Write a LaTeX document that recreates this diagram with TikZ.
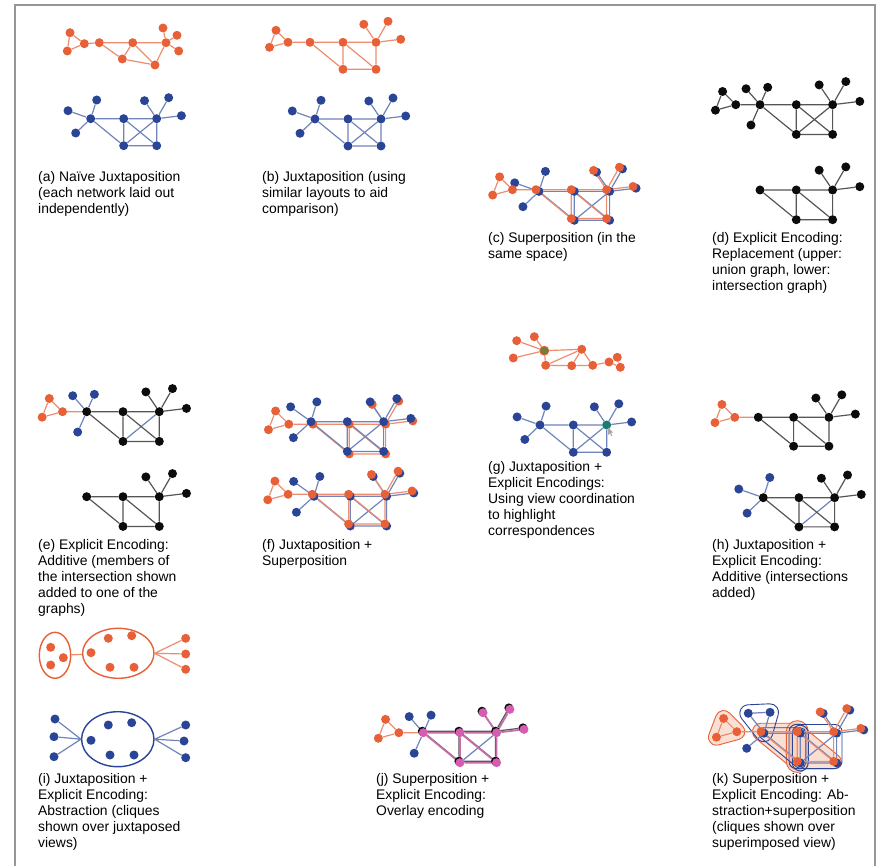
\documentclass[tikz,border=0pt]{standalone}
\usepackage{fontspec}
\setmainfont{Liberation Sans}
\usetikzlibrary{shapes.geometric}
\pgfdeclarelayer{hulls}
\pgfdeclarelayer{edges}
\pgfsetlayers{hulls,edges,main}

\definecolor{nred}{RGB}{232,96,56}
\definecolor{ered}{RGB}{238,140,112}
\definecolor{nblue}{RGB}{42,68,150}
\definecolor{eblue}{RGB}{112,132,188}
\definecolor{nblack}{RGB}{12,12,12}
\definecolor{eblack}{RGB}{85,85,85}
\definecolor{npink}{RGB}{214,92,178}
\definecolor{epink}{RGB}{196,110,170}
\definecolor{framec}{RGB}{150,150,150}
\definecolor{hullfill}{RGB}{248,212,192}
\definecolor{nteal}{RGB}{28,122,112}
\definecolor{ngreen}{RGB}{112,128,58}

% positions of the three leaves hanging off the hub (local units)
\def\hlA{-22.7,-8}\def\hlB{6,-18.7}\def\hlC{-15,14.3}

% node groups of the network, in local units (hub at the origin)
\newcommand\netTri{%
  \node[trin] (-t1) at (-34,-12) {};
  \node[trin] (-t2) at (-40.5,5) {};
  \node[trin] (-t3) at (-22,0) {};}
\newcommand\netCore{%
  \node[comn] (-h) at (0,0) {};
  \node[comn] (-a) at (33,0) {};
  \node[comn,bsp] (-b) at (66,0) {};
  \node[comn] (-c) at (33,27) {};
  \node[comn] (-d) at (66,27) {};
  \node[comn] (-bl1) at (53.8,-18) {};
  \node[comn] (-bl2) at (78,-21) {};
  \node[comn] (-bl3) at (90.7,-3) {};}
\newcommand\netHl{%
  \node[hln] (-hl1) at (\hlA) {};
  \node[hln] (-hl2) at (\hlB) {};
  \node[hln] (-hl3) at (\hlC) {};}
\newcommand\edgeTri{\draw[trie] (-t1) -- (-t2) -- (-t3) -- (-t1) (-t3) -- (-h);}
\newcommand\edgeCore{\draw[come] (-h) -- (-a) -- (-b) -- (-d) -- (-c) -- (-h)
  (-a) -- (-c) (-a) -- (-d) (-b) -- (-bl1) (-b) -- (-bl2) (-b) -- (-bl3);}
\newcommand\edgeHl{\draw[hle] (-h) -- (-hl1) (-h) -- (-hl2) (-h) -- (-hl3) (-c) -- (-b);}

% rounded hull (distance \hr) around a triangle given clockwise on screen
\def\hr{7}
\newcommand\trihull[7]{%
  \pgfmathsetmacro\eA{atan2(#5-#3,#4-#2)}%
  \pgfmathsetmacro\eB{atan2(#7-#5,#6-#4)}%
  \pgfmathsetmacro\eC{atan2(#3-#7,#2-#6)}%
  \pgfmathsetmacro\sA{\eC-90}\pgfmathsetmacro\fA{\eA-90}%
  \pgfmathsetmacro\fA{ifthenelse(\fA<\sA,\fA+360,\fA)}%
  \pgfmathsetmacro\sB{\eA-90}\pgfmathsetmacro\fB{\eB-90}%
  \pgfmathsetmacro\fB{ifthenelse(\fB<\sB,\fB+360,\fB)}%
  \pgfmathsetmacro\sC{\eB-90}\pgfmathsetmacro\fC{\eC-90}%
  \pgfmathsetmacro\fC{ifthenelse(\fC<\sC,\fC+360,\fC)}%
  \draw[#1] ({#2+\hr*cos(\sA)},{#3+\hr*sin(\sA)})
    arc[start angle=\sA, end angle=\fA, radius=\hr]
    -- ({#4+\hr*cos(\sB)},{#5+\hr*sin(\sB)})
    arc[start angle=\sB, end angle=\fB, radius=\hr]
    -- ({#6+\hr*cos(\sC)},{#7+\hr*sin(\sC)})
    arc[start angle=\sC, end angle=\fC, radius=\hr] -- cycle;}

\tikzset{
  dot/.style={circle, inner sep=0pt, minimum size=9pt, draw=none},
  rdot/.style={dot, fill=nred},
  bdot/.style={dot, fill=nblue},
  kdot/.style={dot, fill=nblack},
  pdot/.style={dot, fill=npink},
  redge/.style={draw=ered, line width=1.2pt},
  bedge/.style={draw=eblue, line width=1.2pt},
  kedge/.style={draw=eblack, line width=1.2pt},
  pedge/.style={draw=epink, line width=1.8pt},
  trin/.style={rdot}, hln/.style={bdot}, comn/.style={kdot}, bsp/.style={},
  trie/.style={redge}, hle/.style={bedge}, come/.style={kedge},
  allred/.style={comn/.style={rdot}, come/.style={redge}},
  allblue/.style={comn/.style={bdot}, come/.style={bedge}},
  allblack/.style={trin/.style={kdot}, hln/.style={kdot}, trie/.style={kedge}, hle/.style={kedge}},
  hlpos/.code n args={3}{\def\hlA{#1}\def\hlB{#2}\def\hlC{#3}},
  dlayout/.style={hlpos={-12.7,-14.5}{7,-15.8}{-8.2,18.5}},
  pics/rednet/.style={code={\netTri\netCore
    \begin{pgfonlayer}{edges}\edgeTri\edgeCore\end{pgfonlayer}}},
  pics/bluenet/.style={code={\netHl\netCore
    \begin{pgfonlayer}{edges}\edgeHl\edgeCore\end{pgfonlayer}}},
  pics/unionnet/.style={code={\netTri\netHl\netCore
    \begin{pgfonlayer}{edges}\edgeTri\edgeHl\edgeCore\end{pgfonlayer}}},
  pics/commonnet/.style={code={\netCore
    \begin{pgfonlayer}{edges}\edgeCore\end{pgfonlayer}}},
  captext/.style={anchor=north west, align=left, inner sep=0pt,
    font=\fontsize{13.9}{16}\selectfont},
  clique/.style={ellipse, inner sep=0pt, line width=1.4pt},
  hullr/.style={draw=nred, fill=hullfill, fill opacity=0.7, line width=0.9pt},
  hullb/.style={draw=nblue, line width=0.9pt},
}

\begin{document}
\begin{tikzpicture}[x=1pt, y=-1pt]
\useasboundingbox (0,0) rectangle (884,866);
\begin{pgfonlayer}{hulls}
  \fill[white] (0,0) rectangle (884,866);
\end{pgfonlayer}

% frame
\draw[framec, line width=1.3pt] (15,868) -- (15,5) -- (875,5) -- (875,868);

% ---------- (a) independent layouts
\node[rdot] (a1-t1) at (70,32.7) {};
\node[rdot] (a1-t2) at (67.3,51) {};
\node[rdot] (a1-t3) at (84.3,43.7) {};
\node[rdot] (a1-h) at (99.3,42.7) {};
\node[rdot] (a1-a) at (132.7,42.7) {};
\node[rdot] (a1-c) at (122.3,59) {};
\node[rdot] (a1-b) at (166,42.7) {};
\node[rdot] (a1-d) at (155,65) {};
\node[rdot] (a1-bl1) at (163,28) {};
\node[rdot] (a1-bl2) at (177,35.3) {};
\node[rdot] (a1-bl3) at (178.7,51) {};
\begin{pgfonlayer}{edges}
\draw[redge] (a1-t1) -- (a1-t2) -- (a1-t3) -- (a1-t1) (a1-t3) -- (a1-h)
  (a1-h) -- (a1-a) -- (a1-b) -- (a1-d) -- (a1-c) -- (a1-h) (a1-a) -- (a1-c) (a1-a) -- (a1-d)
  (a1-b) -- (a1-bl1) (a1-b) -- (a1-bl2) (a1-b) -- (a1-bl3);
\end{pgfonlayer}
\pic[allblue] (a2) at (90.7,118.7) {bluenet};
\node[captext] (capa) at (38,171.5) {(a) Naïve Juxtaposition\\(each network laid out\\independently)};

% ---------- (b) similar layouts
\pic[allred] (b1) at (310,42.3) {rednet};
\pic[allblue] (b2) at (315,119) {bluenet};
\node[captext] (capb) at (262,171.5) {(b) Juxtaposition (using\\similar layouts to aid\\comparison)};

% ---------- (c) superposition
\pic[allblue, scale=1.07] (c2) at (539,191.4) {bluenet};
\pic[allred, scale=1.07] (c1) at (536,189.7) {rednet};
\node[captext] (capc) at (488,232.5) {(c) Superposition (in the\\same space)};

% ---------- (d) union and intersection
\pic[allblack, dlayout, scale=1.1] (d1) at (760,104.7) {unionnet};
\pic[scale=1.1] (d2) at (760,190) {commonnet};
\node[captext] (capd) at (712,232.5) {(d) Explicit Encoding:\\Replacement (upper:\\union graph, lower:\\intersection graph)};

% ---------- (e) additive
\pic[dlayout, scale=1.1] (e1) at (86.7,411.7) {unionnet};
\pic[scale=1.1] (e2) at (86.7,496.7) {commonnet};
\node[captext] (cape) at (38,539.5) {(e) Explicit Encoding:\\Additive (members of\\the intersection shown\\added to one of the\\graphs)};

% ---------- (f) juxtaposed superpositions
\pic[allred, scale=1.1] (f1r) at (313,424.2) {rednet};
\pic[allblue, scale=1.1, hlpos={-18.5,-13.5}{5.3,-18}{-16,14.5}] (f1b) at (311,421.7) {bluenet};
\pic[allblue, scale=1.1, hlpos={-18.5,-13.5}{5.3,-18}{-16,14.5}] (f2b) at (314,496.3) {bluenet};
\pic[allred, scale=1.1] (f2r) at (312.3,494.3) {rednet};
\node[captext] (capf) at (262,539.5) {(f) Juxtaposition +\\Superposition};

% ---------- (g) coordinated views
\node[rdot] (g1-bl1) at (516.7,340.7) {};
\node[rdot] (g1-bl2) at (534.3,336.7) {};
\node[rdot] (g1-bl3) at (513.3,358) {};
\node[dot, fill=ngreen, draw=nred, line width=0.8pt] (g1-b) at (544.3,350.7) {};
\node[rdot] (g1-a) at (581.7,349.3) {};
\node[rdot] (g1-d) at (545.7,365.3) {};
\node[rdot] (g1-c) at (571.7,365.7) {};
\node[rdot] (g1-h) at (592.7,365.3) {};
\node[rdot] (g1-t3) at (609,362) {};
\node[rdot] (g1-t1) at (617.3,357.3) {};
\node[rdot] (g1-t2) at (620.3,367.3) {};
\begin{pgfonlayer}{edges}
\draw[redge] (g1-b) -- (g1-bl1) (g1-b) -- (g1-bl2) (g1-b) -- (g1-bl3)
  (g1-b) -- (g1-a) -- (g1-h) -- (g1-c) -- (g1-d) -- (g1-b) (g1-a) -- (g1-d) (g1-a) -- (g1-c)
  (g1-h) -- (g1-t3) -- (g1-t1) -- (g1-t2) -- (g1-t3);
\end{pgfonlayer}
\pic[allblue, scale=1.01, bsp/.style={fill=nteal}] (g2) at (540,425) {bluenet};
\fill[gray!70] (608,427.5) -- (608,435) -- (609.8,433.3) -- (611.2,436) -- (612.2,435.5) -- (610.9,432.8) -- (613.2,432.6) -- cycle;
\node[captext] (capg) at (488,461.5) {(g) Juxtaposition +\\Explicit Encodings:\\Using view coordination\\to highlight\\correspondences};

% ---------- (h) additive juxtaposition
\pic[scale=1.07] (h1) at (758.3,417.3) {rednet};
\pic[scale=1.08] (h2) at (763.3,497.7) {bluenet};
\node[captext] (caph) at (712,539.5) {(h) Juxtaposition +\\Explicit Encoding:\\Additive (intersections\\added)};

% ---------- (i) abstraction
\node[clique, draw=nred, minimum width=31.4pt, minimum height=46pt] (i1-s) at (55,655.3) {};
\node[clique, draw=nred, minimum width=71.4pt, minimum height=50pt] (i1-l) at (118.3,653.3) {};
\node[rdot] (i1-s1) at (50.7,647.3) {};
\node[rdot] (i1-s2) at (50.7,665) {};
\node[rdot] (i1-s3) at (63.3,657.7) {};
\node[rdot] (i1-l1) at (91,652.7) {};
\node[rdot] (i1-l2) at (108.3,638.3) {};
\node[rdot] (i1-l3) at (131.7,635.7) {};
\node[rdot] (i1-l4) at (110,667.3) {};
\node[rdot] (i1-l5) at (134,667.3) {};
\node[rdot] (i1-r1) at (185.7,638.3) {};
\node[rdot] (i1-r2) at (185.7,654) {};
\node[rdot] (i1-r3) at (185.7,669.3) {};
\draw[redge] (i1-s) -- (i1-l) (i1-l.east) -- (i1-r1) (i1-l.east) -- (i1-r2) (i1-l.east) -- (i1-r3);
\node[clique, draw=nblue, minimum width=72.4pt, minimum height=55pt] (i2-l) at (117.8,739.2) {};
\node[bdot] (i2-l1) at (91,740.3) {};
\node[bdot] (i2-l2) at (108.3,725) {};
\node[bdot] (i2-l3) at (131.7,722.7) {};
\node[bdot] (i2-l4) at (110,755) {};
\node[bdot] (i2-l5) at (134,755) {};
\node[bdot] (i2-w1) at (55,719) {};
\node[bdot] (i2-w2) at (54,736.7) {};
\node[bdot] (i2-w3) at (54,756.7) {};
\node[bdot] (i2-r1) at (185.7,725) {};
\node[bdot] (i2-r2) at (184,741) {};
\node[bdot] (i2-r3) at (185.7,757.7) {};
\draw[bedge] (i2-l.west) -- (i2-w1) (i2-l.west) -- (i2-w2) (i2-l.west) -- (i2-w3)
  (i2-l.east) -- (i2-r1) (i2-l.east) -- (i2-r2) (i2-l.east) -- (i2-r3);
\node[captext] (capi) at (38,773.5) {(i) Juxtaposition +\\Explicit Encoding:\\Abstraction (cliques\\shown over juxtaposed\\views)};

% ---------- (j) overlay
\pic[scale=1.11] (j0) at (422.3,731.2) {commonnet};
\pic[dlayout, scale=1.11, comn/.style={pdot}, come/.style={pedge}] (j1) at (423.3,732.7) {unionnet};
\node[captext] (capj) at (376,773.5) {(j) Superposition +\\Explicit Encoding:\\Overlay encoding};

% ---------- (k) cliques over the superposition
\pic[allblue, scale=1.1, hlpos={-14.3,-18.1}{5.5,-19}{-15.7,13.7}] (k2) at (764,733.2) {bluenet};
\begin{pgfonlayer}{edges}
  \draw[bedge] (k2-hl1) -- (k2-hl2);
\end{pgfonlayer}
\pic[allred, scale=1.1] (k1) at (761,731.7) {rednet};
\begin{pgfonlayer}{hulls}
  % red cliques, filled
  \def\hr{8}\trihull{hullr}{723.6}{718.5}{736.8}{731.7}{716.45}{737.2}
  \def\hr{8.5}\trihull{hullr}{761}{731.7}{797.3}{731.7}{797.3}{761.4}
  \def\hr{7.5}\trihull{hullr}{797.3}{731.7}{833.6}{761.4}{797.3}{761.4}
  \draw[hullr, rounded corners=11pt] (786.3,720.7) rectangle (808.3,772.4);
  % blue cliques, outlined
  \def\hr{8.5}\trihull{hullb}{748.3}{713.3}{770.05}{712.3}{764}{733.2}
  \def\hr{5.5}\trihull{hullb}{764}{733.2}{800.3}{733.2}{800.3}{762.9}
  \draw[hullb, rounded corners=7pt] (789,724.5) rectangle (842,768.5);
  \draw[hullb, rounded corners=8pt] (792.3,725.2) rectangle (808.3,770.9);
\end{pgfonlayer}
\node[captext] (capk) at (712,773.5) {(k) Superposition +\\Explicit Encoding: Ab-\\straction+superposition\\(cliques shown over\\superimposed view)};
\end{tikzpicture}
\end{document}
